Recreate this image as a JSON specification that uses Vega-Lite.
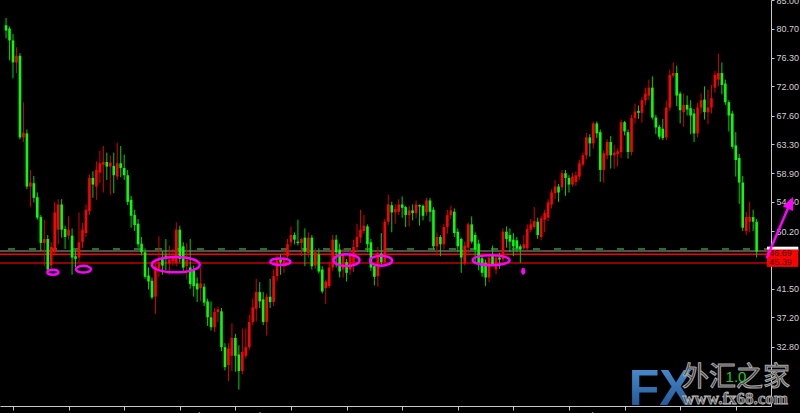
{
  "$schema": "https://vega.github.io/schema/vega-lite/v6.json",
  "width": 771,
  "height": 406,
  "autosize": {"type": "none"},
  "padding": {"left": 0, "top": 0, "right": 29, "bottom": 7},
  "background": "#000000",
  "config": {"view": {"stroke": null}, "font": "Liberation Sans"},
  "resolve": {"axis": {"x": "independent", "y": "independent"}},
  "datasets": {
    "candles": [
      {"i":0,"o":81.2,"h":82.3,"l":79.2,"c":80.4},{"i":1,"o":80.7,"h":81.0,"l":75.9,"c":78.9},{"i":2,"o":78.9,"h":79.9,"l":73.2,"c":75.6},{"i":3,"o":75.6,"h":77.9,"l":74.0,"c":76.6},
      {"i":4,"o":76.6,"h":77.0,"l":64.0,"c":64.3},{"i":5,"o":64.3,"h":69.6,"l":63.6,"c":65.0},{"i":6,"o":64.9,"h":65.5,"l":56.5,"c":56.9},{"i":7,"o":56.9,"h":59.4,"l":53.8,"c":57.5},
      {"i":8,"o":57.4,"h":58.5,"l":54.5,"c":55.2},{"i":9,"o":55.3,"h":56.0,"l":51.9,"c":52.2},{"i":10,"o":52.3,"h":52.6,"l":47.2,"c":48.4},{"i":11,"o":48.4,"h":51.9,"l":44.9,"c":49.0},
      {"i":12,"o":49.0,"h":49.6,"l":44.0,"c":44.4},{"i":13,"o":45.0,"h":48.5,"l":44.5,"c":47.8},{"i":14,"o":47.0,"h":54.6,"l":46.5,"c":53.0},{"i":15,"o":50.4,"h":55.0,"l":48.2,"c":54.2},
      {"i":16,"o":54.2,"h":55.0,"l":49.2,"c":50.4},{"i":17,"o":50.5,"h":51.0,"l":47.5,"c":49.3},{"i":18,"o":49.5,"h":52.4,"l":48.9,"c":50.4},{"i":19,"o":49.5,"h":50.6,"l":43.6,"c":46.2},
      {"i":20,"o":46.4,"h":47.3,"l":44.7,"c":46.0},{"i":21,"o":46.2,"h":53.0,"l":45.5,"c":48.5},{"i":22,"o":48.5,"h":51.4,"l":47.6,"c":50.4},{"i":23,"o":49.9,"h":54.2,"l":49.3,"c":53.4},
      {"i":24,"o":53.2,"h":58.7,"l":52.6,"c":58.2},{"i":25,"o":58.2,"h":59.2,"l":55.2,"c":57.2},{"i":26,"o":56.9,"h":60.7,"l":54.9,"c":59.4},{"i":27,"o":59.0,"h":62.3,"l":57.4,"c":60.4},
      {"i":28,"o":60.2,"h":63.0,"l":56.0,"c":60.6},{"i":29,"o":60.6,"h":62.0,"l":57.9,"c":59.9},{"i":30,"o":59.9,"h":61.6,"l":55.6,"c":60.5},{"i":31,"o":60.0,"h":62.0,"l":55.9,"c":58.6},
      {"i":32,"o":58.4,"h":63.5,"l":57.9,"c":60.4},{"i":33,"o":60.4,"h":63.0,"l":58.3,"c":59.7},{"i":34,"o":59.7,"h":61.7,"l":57.9,"c":58.6},{"i":35,"o":58.6,"h":59.4,"l":54.1,"c":54.6},
      {"i":36,"o":54.9,"h":55.5,"l":50.7,"c":52.5},{"i":37,"o":52.6,"h":53.4,"l":50.2,"c":51.1},{"i":38,"o":51.3,"h":52.0,"l":47.7,"c":48.2},{"i":39,"o":48.3,"h":49.3,"l":46.5,"c":47.0},
      {"i":40,"o":47.0,"h":47.6,"l":43.0,"c":43.3},{"i":41,"o":43.5,"h":44.7,"l":41.4,"c":42.6},{"i":42,"o":42.7,"h":43.2,"l":39.9,"c":40.2},{"i":43,"o":40.3,"h":45.5,"l":37.7,"c":44.9},
      {"i":44,"o":44.5,"h":49.4,"l":43.3,"c":45.5},{"i":45,"o":46.0,"h":47.1,"l":43.6,"c":45.0},{"i":46,"o":46.5,"h":49.0,"l":44.3,"c":46.0},{"i":47,"o":45.3,"h":48.0,"l":43.6,"c":45.9},
      {"i":48,"o":45.6,"h":47.5,"l":45.0,"c":46.2},{"i":49,"o":45.4,"h":51.5,"l":44.9,"c":50.4},{"i":50,"o":50.4,"h":51.0,"l":45.5,"c":46.0},{"i":51,"o":47.9,"h":48.5,"l":44.2,"c":44.7},
      {"i":52,"o":44.9,"h":48.4,"l":42.9,"c":45.8},{"i":53,"o":44.7,"h":49.0,"l":41.5,"c":42.2},{"i":54,"o":44.4,"h":45.0,"l":40.3,"c":41.9},{"i":55,"o":42.3,"h":43.2,"l":39.5,"c":41.4},
      {"i":56,"o":41.6,"h":44.7,"l":39.6,"c":42.3},{"i":57,"o":41.8,"h":42.3,"l":38.9,"c":39.4},{"i":58,"o":39.6,"h":40.0,"l":35.9,"c":37.2},{"i":59,"o":37.2,"h":39.6,"l":35.2,"c":35.7},
      {"i":60,"o":35.7,"h":38.6,"l":35.0,"c":38.0},{"i":61,"o":38.0,"h":38.8,"l":36.5,"c":38.4},{"i":62,"o":38.1,"h":38.6,"l":32.1,"c":32.7},{"i":63,"o":32.7,"h":33.3,"l":29.2,"c":29.7},
      {"i":64,"o":30.0,"h":33.3,"l":27.6,"c":32.5},{"i":65,"o":31.4,"h":36.3,"l":29.1,"c":34.1},{"i":66,"o":34.1,"h":34.7,"l":29.0,"c":31.4},{"i":67,"o":31.6,"h":33.0,"l":26.3,"c":29.1},
      {"i":68,"o":29.1,"h":35.5,"l":28.6,"c":32.0},{"i":69,"o":31.4,"h":35.5,"l":31.0,"c":32.7},{"i":70,"o":32.7,"h":37.6,"l":32.3,"c":36.5},{"i":71,"o":36.5,"h":40.0,"l":36.0,"c":38.7},
      {"i":72,"o":38.5,"h":43.0,"l":36.6,"c":41.0},{"i":73,"o":41.0,"h":42.5,"l":38.6,"c":39.6},{"i":74,"o":39.9,"h":41.0,"l":36.0,"c":36.5},{"i":75,"o":36.5,"h":40.8,"l":34.5,"c":40.3},
      {"i":76,"o":40.3,"h":43.0,"l":38.6,"c":39.5},{"i":77,"o":39.5,"h":44.4,"l":38.9,"c":43.4},{"i":78,"o":43.4,"h":46.7,"l":42.6,"c":45.9},{"i":79,"o":45.9,"h":46.7,"l":43.6,"c":45.5},
      {"i":80,"o":44.9,"h":47.4,"l":43.9,"c":46.0},{"i":81,"o":46.4,"h":49.0,"l":45.8,"c":48.2},{"i":82,"o":48.5,"h":50.9,"l":47.9,"c":49.6},{"i":83,"o":49.6,"h":50.0,"l":48.2,"c":48.9},
      {"i":84,"o":48.6,"h":51.9,"l":48.0,"c":48.4},{"i":85,"o":48.4,"h":49.2,"l":46.4,"c":49.0},{"i":86,"o":49.2,"h":50.6,"l":44.9,"c":47.1},{"i":87,"o":46.9,"h":50.0,"l":46.2,"c":49.2},
      {"i":88,"o":49.2,"h":49.6,"l":44.4,"c":44.9},{"i":89,"o":45.0,"h":47.6,"l":44.5,"c":47.0},{"i":90,"o":46.7,"h":47.6,"l":43.8,"c":44.1},{"i":91,"o":44.4,"h":44.9,"l":40.8,"c":41.1},
      {"i":92,"o":41.6,"h":42.9,"l":39.2,"c":42.6},{"i":93,"o":41.9,"h":45.5,"l":41.6,"c":44.7},{"i":94,"o":44.7,"h":49.6,"l":44.2,"c":48.9},{"i":95,"o":48.9,"h":49.6,"l":44.7,"c":47.0},
      {"i":96,"o":47.4,"h":48.3,"l":43.2,"c":44.1},{"i":97,"o":44.4,"h":47.6,"l":43.2,"c":46.7},{"i":98,"o":45.5,"h":46.0,"l":42.6,"c":43.9},{"i":99,"o":44.4,"h":47.4,"l":43.6,"c":46.7},
      {"i":100,"o":45.1,"h":48.9,"l":44.0,"c":47.8},{"i":101,"o":47.8,"h":51.3,"l":47.2,"c":49.3},{"i":102,"o":49.2,"h":53.4,"l":48.4,"c":50.4},{"i":103,"o":50.2,"h":52.6,"l":49.8,"c":51.0},
      {"i":104,"o":50.9,"h":51.2,"l":47.0,"c":48.2},{"i":105,"o":48.5,"h":49.0,"l":44.2,"c":44.7},{"i":106,"o":44.9,"h":45.2,"l":42.0,"c":43.3},{"i":107,"o":43.4,"h":47.8,"l":41.8,"c":46.9},
      {"i":108,"o":46.8,"h":49.9,"l":44.9,"c":45.5},{"i":109,"o":45.5,"h":52.0,"l":45.0,"c":51.6},{"i":110,"o":51.6,"h":55.7,"l":51.1,"c":54.2},{"i":111,"o":54.1,"h":54.6,"l":50.0,"c":53.0},
      {"i":112,"o":53.0,"h":54.2,"l":51.3,"c":53.5},{"i":113,"o":53.1,"h":55.0,"l":52.6,"c":54.2},{"i":114,"o":54.2,"h":55.4,"l":52.2,"c":53.7},{"i":115,"o":53.8,"h":54.0,"l":50.8,"c":52.6},
      {"i":116,"o":52.6,"h":54.0,"l":50.9,"c":53.3},{"i":117,"o":53.3,"h":54.2,"l":51.8,"c":52.9},{"i":118,"o":52.9,"h":54.8,"l":52.1,"c":54.2},{"i":119,"o":54.1,"h":54.2,"l":51.0,"c":53.9},
      {"i":120,"o":54.0,"h":54.2,"l":51.8,"c":52.5},{"i":121,"o":53.0,"h":55.2,"l":52.5,"c":54.8},{"i":122,"o":54.8,"h":55.2,"l":51.6,"c":53.1},{"i":123,"o":53.4,"h":53.8,"l":47.4,"c":47.9},
      {"i":124,"o":47.9,"h":50.0,"l":46.5,"c":49.3},{"i":125,"o":49.3,"h":49.6,"l":46.4,"c":48.2},{"i":126,"o":48.2,"h":51.3,"l":47.4,"c":50.8},{"i":127,"o":50.8,"h":53.4,"l":49.8,"c":52.6},
      {"i":128,"o":52.6,"h":54.0,"l":52.0,"c":53.3},{"i":129,"o":53.1,"h":53.6,"l":49.3,"c":49.9},{"i":130,"o":50.1,"h":50.6,"l":47.0,"c":47.9},{"i":131,"o":49.0,"h":49.2,"l":43.9,"c":46.2},
      {"i":132,"o":45.3,"h":48.6,"l":45.0,"c":48.0},{"i":133,"o":47.7,"h":51.5,"l":46.8,"c":51.2},{"i":134,"o":51.2,"h":52.4,"l":48.3,"c":48.6},{"i":135,"o":49.6,"h":50.0,"l":45.5,"c":47.4},
      {"i":136,"o":48.3,"h":48.9,"l":44.3,"c":45.4},{"i":137,"o":46.1,"h":46.5,"l":43.3,"c":43.9},{"i":138,"o":45.4,"h":45.9,"l":41.9,"c":43.2},{"i":139,"o":43.2,"h":46.7,"l":42.5,"c":46.2},
      {"i":140,"o":46.7,"h":48.0,"l":44.9,"c":45.2},{"i":141,"o":44.4,"h":46.7,"l":43.7,"c":46.2},{"i":142,"o":46.2,"h":46.9,"l":44.5,"c":45.9},{"i":143,"o":45.9,"h":50.6,"l":45.6,"c":50.1},
      {"i":144,"o":50.1,"h":50.9,"l":47.7,"c":49.0},{"i":145,"o":49.6,"h":50.6,"l":47.0,"c":48.6},{"i":146,"o":48.9,"h":49.9,"l":46.4,"c":47.9},{"i":147,"o":48.8,"h":49.3,"l":47.0,"c":47.6},
      {"i":148,"o":47.9,"h":48.2,"l":45.4,"c":47.4},{"i":149,"o":47.6,"h":49.6,"l":47.3,"c":48.2},{"i":150,"o":47.6,"h":51.2,"l":47.3,"c":50.5},{"i":151,"o":50.4,"h":52.0,"l":50.0,"c":51.2},
      {"i":152,"o":50.8,"h":53.8,"l":50.5,"c":51.7},{"i":153,"o":51.6,"h":52.2,"l":49.0,"c":49.6},{"i":154,"o":49.3,"h":52.5,"l":48.8,"c":52.1},{"i":155,"o":51.9,"h":53.4,"l":50.0,"c":52.9},
      {"i":156,"o":52.2,"h":55.0,"l":51.7,"c":54.5},{"i":157,"o":54.2,"h":56.5,"l":53.6,"c":56.0},{"i":158,"o":55.9,"h":57.9,"l":55.0,"c":56.9},{"i":159,"o":56.9,"h":57.3,"l":54.6,"c":56.0},
      {"i":160,"o":56.8,"h":59.4,"l":56.3,"c":58.9},{"i":161,"o":58.9,"h":59.4,"l":55.5,"c":58.2},{"i":162,"o":58.2,"h":58.6,"l":56.0,"c":57.2},{"i":163,"o":57.2,"h":59.0,"l":56.9,"c":58.4},
      {"i":164,"o":57.6,"h":59.2,"l":57.0,"c":58.6},{"i":165,"o":58.4,"h":60.9,"l":57.9,"c":60.4},{"i":166,"o":60.2,"h":62.0,"l":59.9,"c":61.6},{"i":167,"o":61.6,"h":65.0,"l":61.0,"c":64.3},
      {"i":168,"o":64.3,"h":64.8,"l":61.4,"c":63.4},{"i":169,"o":63.4,"h":66.7,"l":62.6,"c":66.4},{"i":170,"o":66.4,"h":66.7,"l":64.2,"c":64.9},{"i":171,"o":65.1,"h":65.5,"l":57.6,"c":59.4},
      {"i":172,"o":59.4,"h":62.3,"l":57.5,"c":61.9},{"i":173,"o":61.6,"h":64.0,"l":61.0,"c":63.6},{"i":174,"o":63.6,"h":64.5,"l":59.6,"c":61.6},{"i":175,"o":61.6,"h":63.2,"l":59.6,"c":62.0},
      {"i":176,"o":61.8,"h":62.6,"l":59.9,"c":62.2},{"i":177,"o":62.1,"h":67.0,"l":61.2,"c":66.6},{"i":178,"o":66.6,"h":66.8,"l":64.6,"c":65.2},{"i":179,"o":65.1,"h":65.5,"l":61.1,"c":62.1},
      {"i":180,"o":62.1,"h":67.7,"l":61.6,"c":67.2},{"i":181,"o":67.2,"h":69.4,"l":66.4,"c":68.2},{"i":182,"o":68.3,"h":69.1,"l":67.1,"c":68.0},{"i":183,"o":68.0,"h":70.4,"l":66.5,"c":69.9},
      {"i":184,"o":69.9,"h":71.8,"l":69.2,"c":70.9},{"i":185,"o":70.6,"h":73.0,"l":69.9,"c":71.8},{"i":186,"o":71.8,"h":73.5,"l":67.0,"c":67.3},{"i":187,"o":67.3,"h":67.7,"l":64.8,"c":65.8},
      {"i":188,"o":65.9,"h":66.2,"l":64.0,"c":64.4},{"i":189,"o":65.6,"h":67.1,"l":63.9,"c":64.2},{"i":190,"o":64.3,"h":69.8,"l":63.9,"c":68.8},{"i":191,"o":68.8,"h":74.5,"l":68.3,"c":73.7},
      {"i":192,"o":73.6,"h":75.6,"l":73.3,"c":74.0},{"i":193,"o":74.0,"h":75.1,"l":69.0,"c":70.6},{"i":194,"o":70.9,"h":71.2,"l":66.4,"c":68.4},{"i":195,"o":68.1,"h":70.9,"l":65.9,"c":69.2},
      {"i":196,"o":69.2,"h":70.6,"l":67.6,"c":68.5},{"i":197,"o":68.7,"h":69.9,"l":64.8,"c":67.6},{"i":198,"o":67.9,"h":68.6,"l":63.6,"c":64.9},{"i":199,"o":64.9,"h":69.5,"l":64.3,"c":68.8},
      {"i":200,"o":68.8,"h":70.9,"l":67.9,"c":69.9},{"i":201,"o":70.0,"h":72.0,"l":67.0,"c":68.1},{"i":202,"o":68.1,"h":71.5,"l":66.3,"c":68.8},{"i":203,"o":68.8,"h":72.2,"l":67.9,"c":70.2},
      {"i":204,"o":71.8,"h":74.3,"l":71.0,"c":73.7},{"i":205,"o":73.0,"h":76.9,"l":72.0,"c":74.0},{"i":206,"o":74.0,"h":75.6,"l":70.8,"c":72.2},{"i":207,"o":72.4,"h":73.0,"l":69.2,"c":69.6},
      {"i":208,"o":69.6,"h":69.9,"l":65.2,"c":67.6},{"i":209,"o":67.9,"h":68.3,"l":62.6,"c":62.9},{"i":210,"o":63.1,"h":65.1,"l":58.4,"c":60.9},{"i":211,"o":61.2,"h":61.8,"l":54.3,"c":57.5},
      {"i":212,"o":57.5,"h":58.5,"l":50.2,"c":50.7},{"i":213,"o":50.2,"h":53.1,"l":49.6,"c":52.3},{"i":214,"o":51.6,"h":54.6,"l":50.0,"c":52.3},{"i":215,"o":52.3,"h":53.4,"l":50.2,"c":51.6},
      {"i":216,"o":51.6,"h":52.0,"l":46.2,"c":47.1}
    ],
    "levels": [
      {"name": "gray", "v": 47.19},
      {"name": "dash", "v": 47.46},
      {"name": "red", "v": 46.69},
      {"name": "dkred", "v": 45.39}
    ]
  },
  "layer": [
    {
      "data": {"name": "levels"},
      "transform": [{"filter": "datum.name == 'gray'"}],
      "mark": {"type": "rule", "color": "#6a6a6a", "strokeWidth": 1.6},
      "encoding": {"y": {"field": "v", "type": "quantitative", "scale": {"domain": [23.84, 85.0], "nice": false, "zero": false}, "axis": null}}
    },
    {
      "data": {"name": "levels"},
      "transform": [{"filter": "datum.name == 'dash'"}],
      "mark": {"type": "rule", "color": "#2c6e2c", "strokeWidth": 2.5, "strokeDash": [7, 14]},
      "encoding": {"y": {"field": "v", "type": "quantitative", "scale": {"domain": [23.84, 85.0], "nice": false, "zero": false}, "axis": null}}
    },
    {
      "data": {"name": "levels"},
      "transform": [{"filter": "datum.name == 'red'"}],
      "mark": {"type": "rule", "color": "#ff0000", "strokeWidth": 1.6},
      "encoding": {"y": {"field": "v", "type": "quantitative", "scale": {"domain": [23.84, 85.0], "nice": false, "zero": false}, "axis": null}}
    },
    {
      "data": {"name": "levels"},
      "transform": [{"filter": "datum.name == 'dkred'"}],
      "mark": {"type": "rule", "color": "#c00000", "strokeWidth": 1.4},
      "encoding": {"y": {"field": "v", "type": "quantitative", "scale": {"domain": [23.84, 85.0], "nice": false, "zero": false}, "axis": null}}
    },
    {
      "data": {"name": "candles"},
      "mark": {"type": "rule", "strokeWidth": 1},
      "encoding": {
        "x": {"field": "i", "type": "quantitative", "scale": {"domain": [-0.3, 218.7], "nice": false, "zero": false}, "axis": null},
        "y": {"field": "l", "type": "quantitative", "scale": {"domain": [23.84, 85.0], "nice": false, "zero": false}, "axis": null},
        "y2": {"field": "h"},
        "color": {"condition": {"test": "datum.c >= datum.o", "value": "#d80000"}, "value": "#00d000"}
      }
    },
    {
      "data": {"name": "candles"},
      "mark": {"type": "bar", "width": 2.6},
      "encoding": {
        "x": {"field": "i", "type": "quantitative", "scale": {"domain": [-0.3, 218.7], "nice": false, "zero": false},
          "axis": {"orient": "bottom", "values": [2, 18, 34, 50, 66, 82, 98, 114, 130, 146, 162, 178, 194, 210],
            "labelExpr": "['24 Nov 2014','16 Dec 2014','9 Jan 2015','2 Feb 2015','24 Feb 2015','18 Mar 2015','10 Apr 2015','4 May 2015','26 May 2015','17 Jun 2015','10 Jul 2015','3 Aug 2015','25 Aug 2015','16 Sep 2015'][round((datum.value-2)/16)]",
            "title": null, "grid": false, "domainColor": "#c8c8c8", "tickColor": "#c8c8c8", "tickSize": 4, "labelColor": "#d0d0d0",
            "labelFont": "Liberation Sans", "labelFontSize": 9, "labelPadding": 1, "labelAlign": "left", "labelBaseline": "top",
            "labelOverlap": false, "labelBound": false, "labelFlush": false}},
        "y": {"field": "o", "type": "quantitative", "scale": {"domain": [23.84, 85.0], "nice": false, "zero": false},
          "axis": {"orient": "right", "values": [85, 80.7, 76.3, 72, 67.6, 63.3, 58.9, 54.6, 50.2, 41.5, 37.2, 32.8], "format": ".2f",
            "title": null, "grid": false, "domainColor": "#c8c8c8", "tickColor": "#c8c8c8", "tickSize": 3, "labelColor": "#d0d0d0",
            "labelFont": "Liberation Sans", "labelFontSize": 9, "labelPadding": 2, "labelAlign": "left", "labelBaseline": "middle",
            "labelOverlap": false, "labelBound": false, "labelFlush": false}},
        "y2": {"field": "c"},
        "color": {"condition": {"test": "datum.c >= datum.o", "value": "#ff0000"}, "value": "#00ff00"}
      }
    },
    {
      "data": {"values": [
        {"i": 13.48, "v": 44.0, "span": 3.12},
        {"i": 22.28, "v": 44.45, "span": 4.26},
        {"i": 97.98, "v": 45.81, "span": 7.39},
        {"i": 107.92, "v": 45.73, "span": 6.25}
      ]},
      "mark": {"type": "point", "filled": false, "opacity": 1, "stroke": "#ff00ff", "strokeWidth": 2.5, "shape": "M-1,0A1,0.45,0,1,1,1,0A1,0.45,0,1,1,-1,0Z"},
      "encoding": {
        "x": {"field": "i", "type": "quantitative", "scale": {"domain": [-0.3, 218.7], "nice": false, "zero": false}, "axis": null},
        "y": {"field": "v", "type": "quantitative", "scale": {"domain": [23.84, 85.0], "nice": false, "zero": false}, "axis": null},
        "size": {"field": "span", "type": "quantitative", "scale": {"type": "pow", "exponent": 2, "domain": [0, 10], "range": [0, 1239.4]}, "legend": null}
      }
    },
    {
      "data": {"values": [
        {"i": 48.84, "v": 45.13, "span": 13.63},
        {"i": 78.95, "v": 45.58, "span": 5.68}
      ]},
      "mark": {"type": "point", "filled": false, "opacity": 1, "stroke": "#ff00ff", "strokeWidth": 2.5, "shape": "M-1,0A1,0.32,0,1,1,1,0A1,0.32,0,1,1,-1,0Z"},
      "encoding": {
        "x": {"field": "i", "type": "quantitative", "scale": {"domain": [-0.3, 218.7], "nice": false, "zero": false}, "axis": null},
        "y": {"field": "v", "type": "quantitative", "scale": {"domain": [23.84, 85.0], "nice": false, "zero": false}, "axis": null},
        "size": {"field": "span", "type": "quantitative", "scale": {"type": "pow", "exponent": 2, "domain": [0, 10], "range": [0, 1239.4]}, "legend": null}
      }
    },
    {
      "data": {"values": [
        {"i": 139.6, "v": 45.81, "span": 10.51}
      ]},
      "mark": {"type": "point", "filled": false, "opacity": 1, "stroke": "#ff00ff", "strokeWidth": 2.5, "shape": "M-1,0A1,0.27,0,1,1,1,0A1,0.27,0,1,1,-1,0Z"},
      "encoding": {
        "x": {"field": "i", "type": "quantitative", "scale": {"domain": [-0.3, 218.7], "nice": false, "zero": false}, "axis": null},
        "y": {"field": "v", "type": "quantitative", "scale": {"domain": [23.84, 85.0], "nice": false, "zero": false}, "axis": null},
        "size": {"field": "span", "type": "quantitative", "scale": {"type": "pow", "exponent": 2, "domain": [0, 10], "range": [0, 1239.4]}, "legend": null}
      }
    },
    {
      "data": {"values": [{"i": 148.83, "v": 44.14}]},
      "mark": {"type": "point", "filled": true, "opacity": 1, "color": "#ff00ff", "size": 49, "shape": "M-0.6,0A0.6,1,0,1,1,0.6,0A0.6,1,0,1,1,-0.6,0Z"},
      "encoding": {
        "x": {"field": "i", "type": "quantitative", "scale": {"domain": [-0.3, 218.7], "nice": false, "zero": false}, "axis": null},
        "y": {"field": "v", "type": "quantitative", "scale": {"domain": [23.84, 85.0], "nice": false, "zero": false}, "axis": null}
      }
    },
    {
      "data": {"values": [{"i1": 218.99, "i2": 228, "v1": 47.84, "v2": 47.2}]},
      "mark": {"type": "rect", "color": "#ffffff"},
      "encoding": {
        "x": {"field": "i1", "type": "quantitative", "scale": {"domain": [-0.3, 218.7], "nice": false, "zero": false}, "axis": null},
        "x2": {"field": "i2"},
        "y": {"field": "v1", "type": "quantitative", "scale": {"domain": [23.84, 85.0], "nice": false, "zero": false}, "axis": null},
        "y2": {"field": "v2"}
      }
    },
    {
      "data": {"values": [
        {"i1": 218.99, "i2": 228, "v1": 47.42, "v2": 45.94},
        {"i1": 218.99, "i2": 228, "v1": 46.07, "v2": 44.8}
      ]},
      "mark": {"type": "rect", "color": "#ff0000"},
      "encoding": {
        "x": {"field": "i1", "type": "quantitative", "scale": {"domain": [-0.3, 218.7], "nice": false, "zero": false}, "axis": null},
        "x2": {"field": "i2"},
        "y": {"field": "v1", "type": "quantitative", "scale": {"domain": [23.84, 85.0], "nice": false, "zero": false}, "axis": null},
        "y2": {"field": "v2"}
      }
    },
    {
      "data": {"values": [{"i": 219.6, "v": 46.69}, {"i": 219.6, "v": 45.39}]},
      "mark": {"type": "text", "align": "left", "baseline": "middle", "dy": -1, "font": "Liberation Sans", "fontSize": 9, "color": "#3a0000"},
      "encoding": {
        "x": {"field": "i", "type": "quantitative", "scale": {"domain": [-0.3, 218.7], "nice": false, "zero": false}, "axis": null},
        "y": {"field": "v", "type": "quantitative", "scale": {"domain": [23.84, 85.0], "nice": false, "zero": false}, "axis": null},
        "text": {"field": "v", "format": ".2f"}
      }
    },
    {
      "data": {"values": [{"i": 218.9, "v": 46.11}, {"i": 225.5, "v": 54.24}]},
      "mark": {"type": "line", "color": "#ff00ff", "strokeWidth": 2.5},
      "encoding": {
        "x": {"field": "i", "type": "quantitative", "scale": {"domain": [-0.3, 218.7], "nice": false, "zero": false}, "axis": null},
        "y": {"field": "v", "type": "quantitative", "scale": {"domain": [23.84, 85.0], "nice": false, "zero": false}, "axis": null}
      }
    },
    {
      "data": {"values": [{"i": 225.6, "v": 54.3}]},
      "mark": {"type": "point", "filled": true, "opacity": 1, "color": "#ff00ff", "size": 225, "angle": 24, "shape": "M0,-1L0.75,0.7L-0.75,0.7Z"},
      "encoding": {
        "x": {"field": "i", "type": "quantitative", "scale": {"domain": [-0.3, 218.7], "nice": false, "zero": false}, "axis": null},
        "y": {"field": "v", "type": "quantitative", "scale": {"domain": [23.84, 85.0], "nice": false, "zero": false}, "axis": null}
      }
    },
    {
      "data": {"values": [{"i": 179.2, "v": 23.97, "t": "FX"}]},
      "mark": {"type": "text", "align": "left", "baseline": "alphabetic", "font": "Liberation Sans", "fontWeight": "bold", "fontSize": 50,
        "color": {"gradient": "linear", "x1": 0, "y1": 0, "x2": 0, "y2": 1, "stops": [{"offset": 0, "color": "#4f95d6"}, {"offset": 1, "color": "#1b4c8c"}]}},
      "encoding": {
        "x": {"field": "i", "type": "quantitative", "scale": {"domain": [-0.3, 218.7], "nice": false, "zero": false}, "axis": null},
        "y": {"field": "v", "type": "quantitative", "scale": {"domain": [23.84, 85.0], "nice": false, "zero": false}, "axis": null},
        "text": {"field": "t"}
      }
    },
    {
      "data": {"values": [{"i": 194.56, "v": 28.11, "t": "外汇之家"}]},
      "mark": {"type": "text", "align": "left", "baseline": "middle", "font": "Noto Sans CJK SC", "fontSize": 27, "fill": "#333333", "stroke": "#a8a8a8", "strokeWidth": 1},
      "encoding": {
        "x": {"field": "i", "type": "quantitative", "scale": {"domain": [-0.3, 218.7], "nice": false, "zero": false}, "axis": null},
        "y": {"field": "v", "type": "quantitative", "scale": {"domain": [23.84, 85.0], "nice": false, "zero": false}, "axis": null},
        "text": {"field": "t"}
      }
    },
    {
      "data": {"values": [{"i": 194.6, "v": 24.12, "t": "www.fx68.com"}]},
      "mark": {"type": "text", "align": "left", "baseline": "alphabetic", "font": "Liberation Serif", "fontWeight": "bold", "fontSize": 17, "fill": "#4a4a4a", "stroke": "#b0b0b0", "strokeWidth": 0.8},
      "encoding": {
        "x": {"field": "i", "type": "quantitative", "scale": {"domain": [-0.3, 218.7], "nice": false, "zero": false}, "axis": null},
        "y": {"field": "v", "type": "quantitative", "scale": {"domain": [23.84, 85.0], "nice": false, "zero": false}, "axis": null},
        "text": {"field": "t"}
      }
    },
    {
      "data": {"values": [{"i": 207.06, "v": 27.43, "t": "1.0"}]},
      "mark": {"type": "text", "align": "left", "baseline": "alphabetic", "font": "Liberation Sans", "fontSize": 15, "color": "#22cc22"},
      "encoding": {
        "x": {"field": "i", "type": "quantitative", "scale": {"domain": [-0.3, 218.7], "nice": false, "zero": false}, "axis": null},
        "y": {"field": "v", "type": "quantitative", "scale": {"domain": [23.84, 85.0], "nice": false, "zero": false}, "axis": null},
        "text": {"field": "t"}
      }
    }
  ]
}
